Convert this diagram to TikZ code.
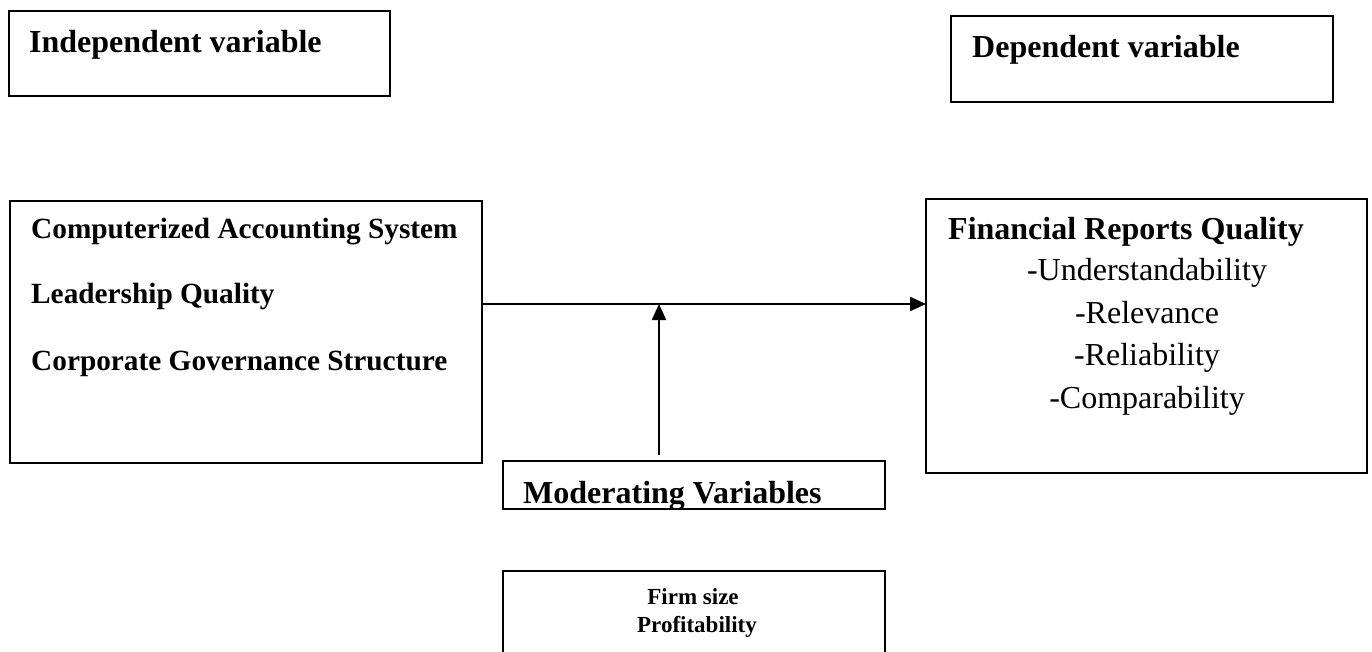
\documentclass[tikz,border=0pt]{standalone}
\usepackage{fontspec}
\setmainfont{Liberation Serif}
\usetikzlibrary{arrows.meta}
\begin{document}
\begin{tikzpicture}[x=1pt,y=-1pt,
  box/.style={draw,line width=2pt,inner sep=0pt,outer sep=0pt,anchor=north west,rectangle},
  title/.style={anchor=base west,inner sep=0pt,font=\fontsize{32}{38}\selectfont\bfseries},
  item/.style={anchor=base west,inner sep=0pt,font=\fontsize{29.3}{35}\selectfont\bfseries},
  sub/.style={anchor=base,inner sep=0pt,font=\fontsize{32}{38}\selectfont},
  small/.style={anchor=base,inner sep=0pt,font=\fontsize{23}{28}\selectfont\bfseries},
  conn/.style={line width=2.2pt,-{Triangle[length=16pt,width=14pt]}}]
\clip (0,0) rectangle (1372,652);
% boxes
\node[box,minimum width=381pt,minimum height=85pt] (indep) at (9,11) {};
\node[box,minimum width=382pt,minimum height=86pt] (dep) at (951,16) {};
\node[box,minimum width=472pt,minimum height=262pt] (left) at (10,201) {};
\node[box,minimum width=441pt,minimum height=274pt] (right) at (926,199) {};
\node[box,minimum width=382pt,minimum height=48pt] (mod) at (503,461) {};
\node[box,minimum width=382pt,minimum height=110pt] (firm) at (503,571) {};
% texts
\node[title] (tindep) at (29,53) {Independent variable};
\node[title] (tdep) at (972,58) {Dependent variable};
\node[item] (t1) at (31,239) {Computerized Accounting System};
\node[item] (t2) at (31,303) {Leadership Quality};
\node[item] (t3) at (31,370) {Corporate Governance Structure};
\node[title] (tfin) at (948,240) {Financial Reports Quality};
\node[sub] (s1) at (1147,280) {-Understandability};
\node[sub] (s2) at (1147,323) {-Relevance};
\node[sub] (s3) at (1147,365) {-Reliability};
\node[sub] (s4) at (1147,408) {-Comparability};
\node[title] (tmod) at (523,503) {Moderating Variables};
\node[small] (f1) at (693,604) {Firm size};
\node[small] (f2) at (697,632) {Profitability};
% connectors
\coordinate (hy) at (0,304);
\coordinate (mtop) at (659,455);
\draw[conn] (left.east |- hy) -- (right.west |- hy);
\draw[conn] (mtop) -- (mtop |- hy);
\end{tikzpicture}
\end{document}
